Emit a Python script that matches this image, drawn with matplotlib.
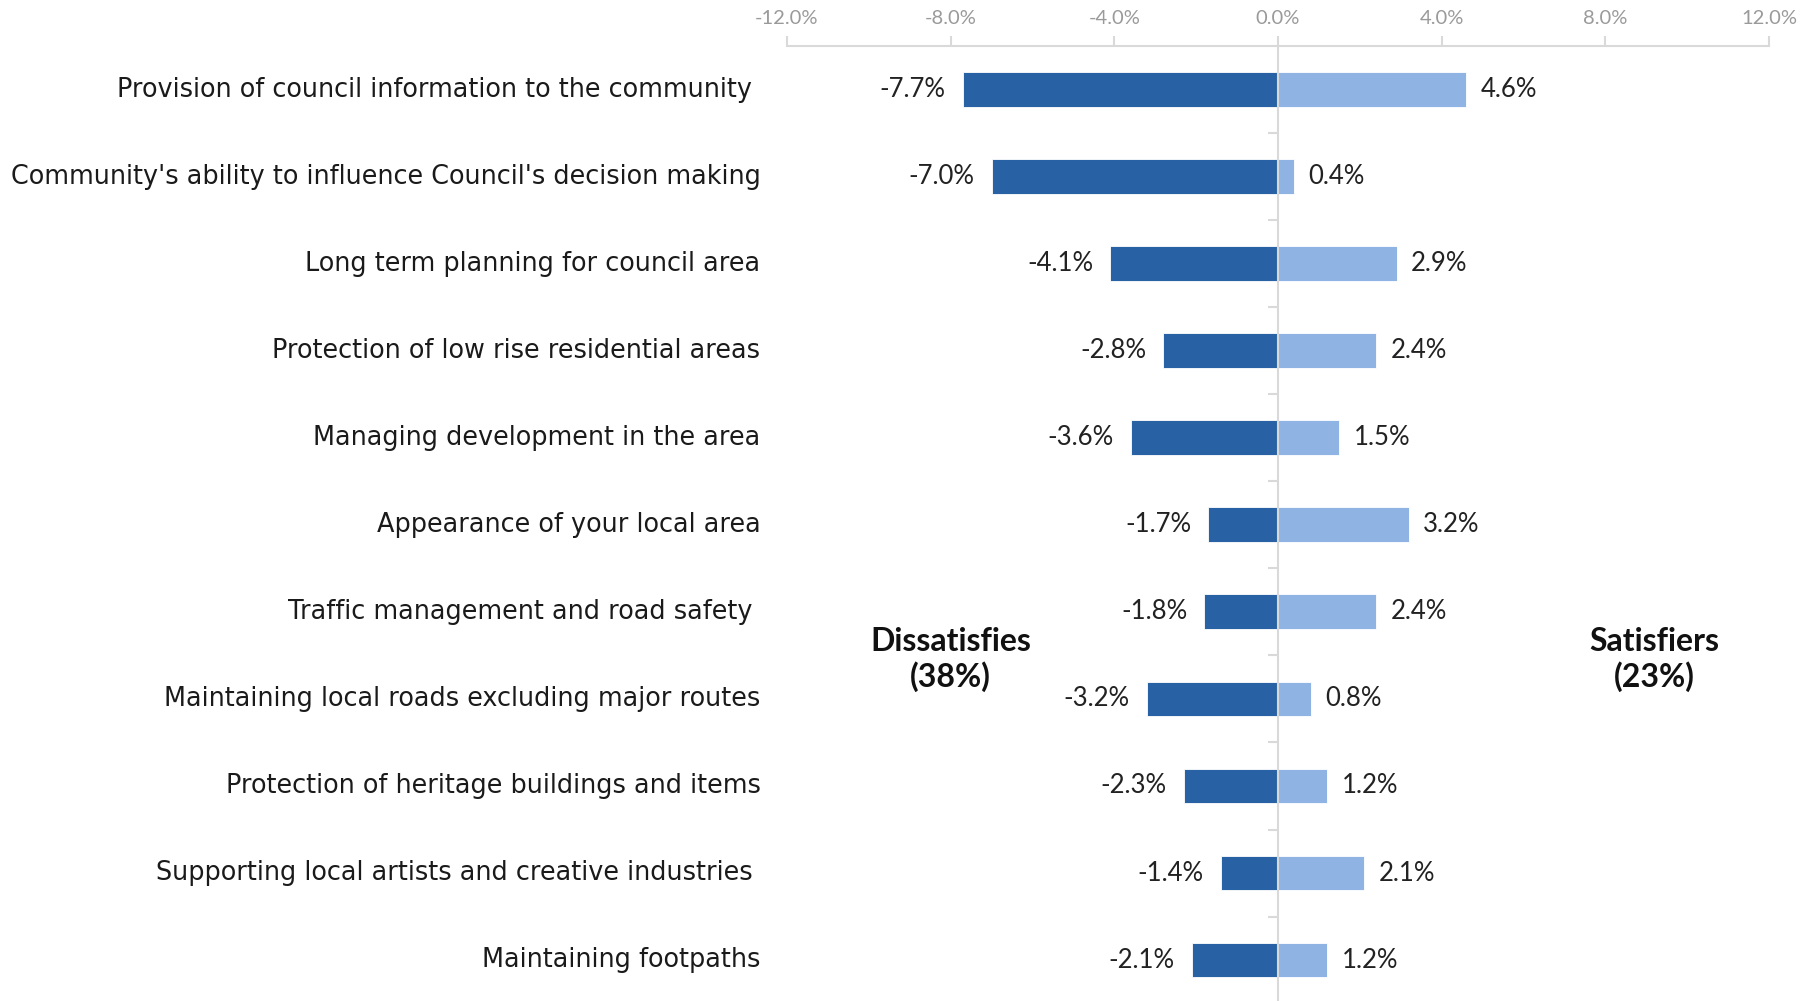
import matplotlib

matplotlib.use("Agg")
import matplotlib.pyplot as plt
import numpy as np

plt.rcParams["font.family"] = ["Lato", "DejaVu Sans"]

categories = [
    "Provision of council information to the community ",
    "Community's ability to influence Council's decision making",
    "Long term planning for council area",
    "Protection of low rise residential areas",
    "Managing development in the area",
    "Appearance of your local area",
    "Traffic management and road safety ",
    "Maintaining local roads excluding major routes",
    "Protection of heritage buildings and items",
    "Supporting local artists and creative industries ",
    "Maintaining footpaths",
]
dissatisfiers = [-7.7, -7.0, -4.1, -2.8, -3.6, -1.7, -1.8, -3.2, -2.3, -1.4, -2.1]
satisfiers = [4.6, 0.4, 2.9, 2.4, 1.5, 3.2, 2.4, 0.8, 1.2, 2.1, 1.2]
x_ticks = [-12, -8, -4, 0, 4, 8, 12]

DARK = "#2862A5"
LIGHT = "#8FB4E3"
GRID = "#D9D9D9"

fig = plt.figure(figsize=(18.15, 10.01), dpi=100)
ax = fig.add_axes([0.4336, 0.0, 0.5411, 0.954])

y = np.arange(len(categories))
ax.barh(y, dissatisfiers, height=0.4, color=DARK, edgecolor="white", linewidth=0.6)
ax.barh(y, satisfiers, height=0.4, color=LIGHT, edgecolor="white", linewidth=0.6)

ax.set_xlim(-12, 12)
ax.set_ylim(10.47, -0.5)

# value labels just outside the bar ends
for yi, d, s in zip(y, dissatisfiers, satisfiers):
    ax.text(d - 0.42, yi, f"{d:.1f}%", ha="right", va="center",
            fontsize=18.5, color="#222222")
    ax.text(s + 0.35, yi, f"{s:.1f}%", ha="left", va="center",
            fontsize=18.5, color="#222222")

# category names, right-aligned in the left margin
for yi, name in zip(y, categories):
    ax.text(-12.65, yi, name, ha="right", va="center", fontsize=18.4,
            family="DejaVu Sans", color="#1a1a1a", clip_on=False)

ax.text(-8.0, 6.55, "Dissatisfies\n(38%)", ha="center", va="center",
        fontsize=23, fontweight="bold", color="#111111", linespacing=1.2)
ax.text(9.2, 6.55, "Satisfiers\n(23%)", ha="center", va="center",
        fontsize=23, fontweight="bold", color="#111111", linespacing=1.2)

# top percentage axis
ax.xaxis.set_ticks_position("top")
ax.set_xticks(x_ticks)
ax.set_xticklabels([f"{t:.1f}%" for t in x_ticks])
ax.tick_params(axis="x", colors=GRID, labelcolor="#9A9A9A", labelsize=14.5,
               length=7, width=1.5, pad=7)

# zero line with small separators between categories
for side in ("right", "bottom"):
    ax.spines[side].set_visible(False)
ax.spines["top"].set_color(GRID)
ax.spines["top"].set_linewidth(1.5)
ax.spines["left"].set_position(("data", 0))
ax.spines["left"].set_color(GRID)
ax.spines["left"].set_linewidth(1.5)
ax.set_yticks([])
ax.set_yticks(np.arange(len(categories) - 1) + 0.5, minor=True)
ax.tick_params(axis="y", which="minor", colors=GRID, length=7, width=1.5,
               labelleft=False)

fig.savefig("out.png", dpi=100)
